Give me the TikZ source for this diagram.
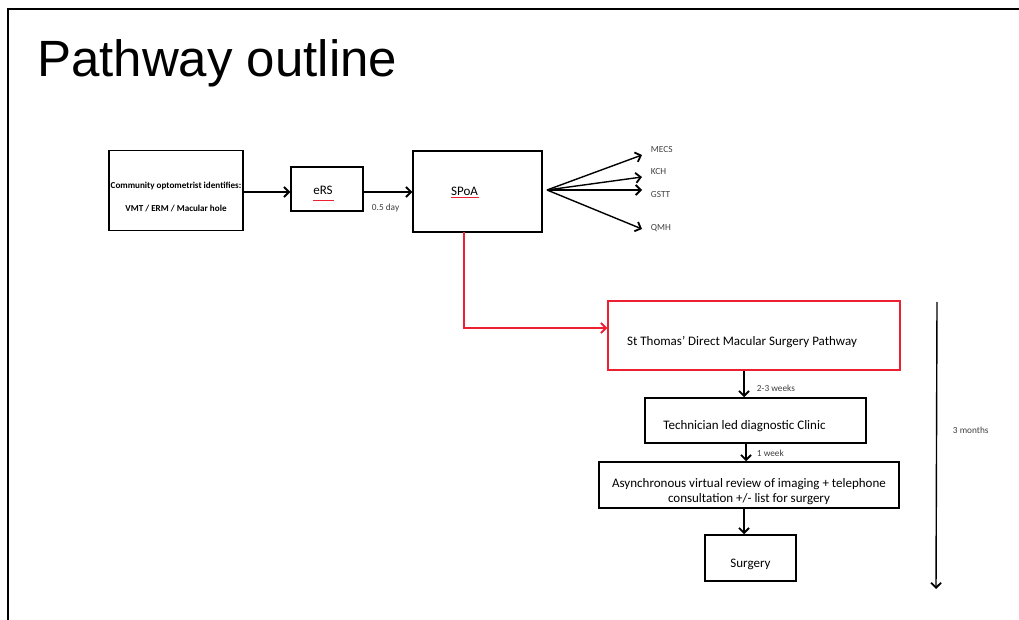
\documentclass[tikz,border=0pt]{standalone}
\usepackage{fontspec}
\usepackage{xcolor}
\usepackage{tikz}
\usetikzlibrary{arrows.meta}
\setmainfont{Carlito}
\newfontfamily\titlefont{Liberation Sans}
\definecolor{pathred}{RGB}{236,32,48}
\newcommand\lowered[2]{\raisebox{-#1}[\height][\depth]{#2}}

\begin{document}
\begin{tikzpicture}[x=1pt,y=1pt,yscale=-1,xscale=1,
  box/.style={draw,line width=1.5pt,inner sep=0pt,font=\fontsize{13}{15}\selectfont},
  flow/.style={line width=1.4pt,-{Straight Barb[length=5pt,width=10pt,line width=1.8pt]}},
  redflow/.style={flow,draw=pathred,color=pathred},
  tag/.style={font=\fontsize{9.3}{11}\selectfont,inner sep=0.75pt,text=black!75}]
\useasboundingbox (0,0) rectangle (1019,620);

% frame
\draw [line width=2pt] (8,620) -- (8,9) -- (1019,9);

% Text Node
\node (title) [anchor=west,inner sep=0pt,font=\titlefont\fontsize{51}{60}\selectfont] at (37,63) {Pathway outline};

% top row
\node (comm) [box,minimum width=134,minimum height=80,font=\bfseries\fontsize{9.1}{22}\selectfont] at (176,190.5) {\lowered{5pt}{\begin{tabular}{@{}c@{}}Community optometrist identifies:\\[1pt]VMT / ERM / Macular hole\end{tabular}}};
\node (ers) [box,minimum width=72,minimum height=44] at (327,189) {\lowered{1pt}{eRS\hspace{8pt}\mbox{}}};
\node (spoa) [box,minimum width=129,minimum height=81] at (477.5,191.5) {SPoA\hspace{26pt}\mbox{}};
\draw [pathred,line width=0.8pt] (313,200) -- (334,200);
\draw [pathred,line width=0.8pt] (451,197) -- (479,197);

\draw [flow] (comm.east |- 0,192) -- (ers.west |- 0,192);
\draw [flow] (ers.east |- 0,192) -- (spoa.west |- 0,192);
\node (halfday) [tag,anchor=west] at (371,208) {0.5 day};

% fan out
\coordinate (fan) at (547,190);
\coordinate (tipmecs) at (642,155);
\coordinate (tipkch) at (642,177);
\coordinate (tipgstt) at (642,190);
\coordinate (tipqmh) at (642,229);
\foreach \t in {mecs,kch,gstt,qmh}
  \draw [flow] (fan) -- (tip\t);
\node (mecs) [tag,anchor=west] at (650,150) {MECS};
\node (kch) [tag,anchor=west] at (650,172) {KCH};
\node (gstt) [tag,anchor=west] at (650,195) {GSTT};
\node (qmh) [tag,anchor=west] at (650,228) {QMH};

% pathway column
\node (stp) [box,draw=pathred,minimum width=292,minimum height=69] at (754,335.5) {\lowered{7pt}{St Thomas' Direct Macular Surgery Pathway\hspace{24pt}\mbox{}}};
\coordinate (drop) at (464,232);
\draw [redflow] (drop) |- ([yshift=-7.5pt]stp.west);

\coordinate (col) at (744,0);
\node (tech) [box,minimum width=221,minimum height=45] at (755.5,420.5) {\lowered{6pt}{Technician led diagnostic Clinic\hspace{22pt}\mbox{}}};
\node (async) [box,minimum width=300,minimum height=46] at (749,485) {\lowered{7pt}{\begin{tabular}{@{}c@{}}Asynchronous virtual review of imaging + telephone\\[0pt]consultation +/- list for surgery\end{tabular}}};
\node (surg) [box,minimum width=91,minimum height=46] at (750.5,558) {\lowered{6pt}{Surgery}};

\draw [flow] (stp.south -| col) -- (tech.north -| col);
\draw [flow] ([xshift=2pt]tech.south -| col) -- ([xshift=2pt]async.north -| col);
\draw [flow] (async.south -| col) -- (surg.north -| col);
\node (wk23) [tag,anchor=west] at (756,388) {2-3 weeks};
\node (wk1) [tag,anchor=west] at (756,453) {1 week};

% timeline
\coordinate (tstart) at (937,302);
\coordinate (tend) at (936,589);
\draw [flow] (tstart) -- (tend);
\node (months) [tag,anchor=west] at (952,430) {3 months};

\end{tikzpicture}
\end{document}
